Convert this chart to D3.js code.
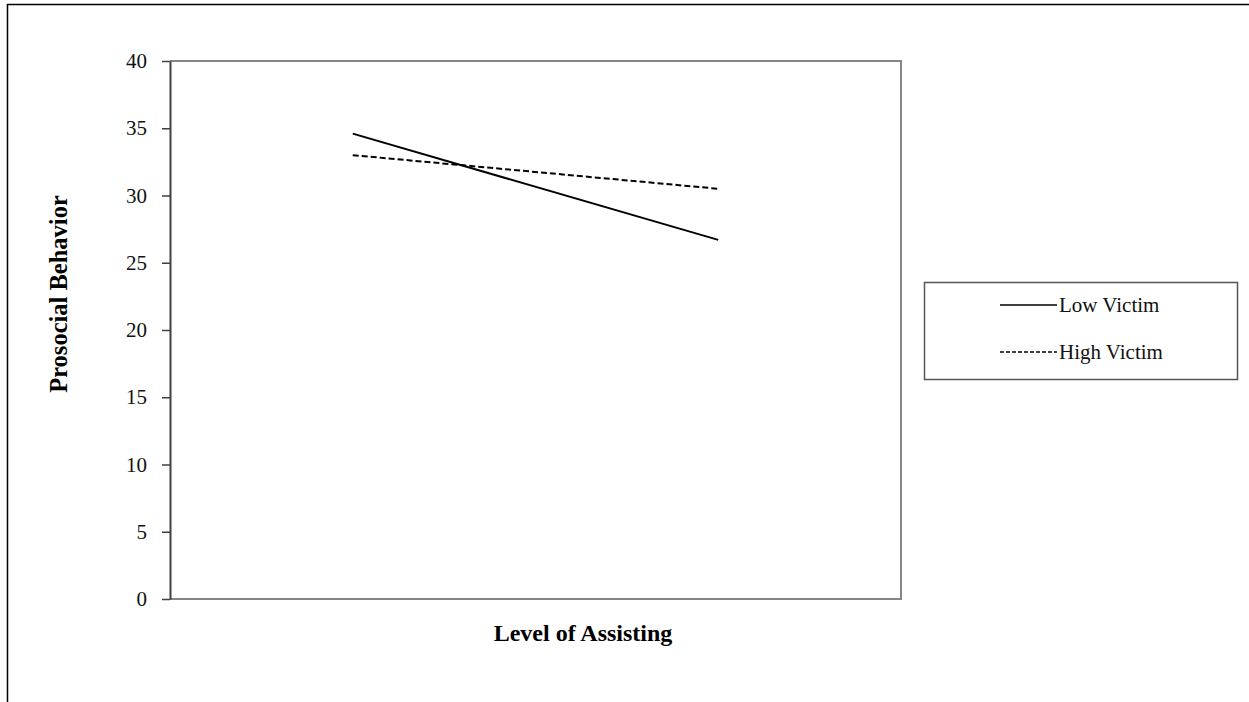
<!DOCTYPE html>
<html>
<head>
<meta charset="utf-8">
<script src="https://cdn.jsdelivr.net/npm/d3@7"></script>
<style>
  html, body { margin: 0; padding: 0; background: #fff; }
  svg { display: block; }
  svg text { font-family: "Liberation Serif", "Times New Roman", "DejaVu Serif", serif; }
</style>
</head>
<body>
<svg id="chart" width="1249" height="702"></svg>
<script>
// Simple slopes: prosocial behavior by level of assisting, for low vs. high victimization
const categories = ["Low Assisting", "High Assisting"];
const lowVictim = [34.6, 26.7];
const highVictim = [33.0, 30.5];
const seriesNames = ["Low Victim", "High Victim"];
const yTicks = [0, 5, 10, 15, 20, 25, 30, 35, 40];

const SERIF = "Liberation Serif, Times New Roman, serif";
const svg = d3.select("#chart");

// Plot area
const plot = { left: 170, top: 61, right: 901, bottom: 599 };

const x = d3.scalePoint()
  .domain(categories)
  .range([plot.left, plot.right])
  .padding(0.5);

const y = d3.scaleLinear()
  .domain([0, 40])
  .range([plot.bottom, plot.top]);

// Outer frame: top and left edges
svg.append("line")
  .attr("x1", 7).attr("y1", 4.5).attr("x2", 1249).attr("y2", 4.5)
  .attr("stroke", "#000").attr("stroke-width", 1.5);
svg.append("line")
  .attr("x1", 7.5).attr("y1", 4).attr("x2", 7.5).attr("y2", 702)
  .attr("stroke", "#000").attr("stroke-width", 1.5);

// Plot border (top, right, bottom) in grey
svg.append("path")
  .attr("d", `M${plot.left},${plot.top}H${plot.right}V${plot.bottom}H${plot.left}`)
  .attr("fill", "none")
  .attr("stroke", "#858585")
  .attr("stroke-width", 2);

// Y axis
const yAxis = d3.axisLeft(y)
  .tickValues(yTicks)
  .tickSizeInner(8)
  .tickSizeOuter(0)
  .tickPadding(15);

const gy = svg.append("g")
  .attr("transform", `translate(${plot.left},0)`)
  .call(yAxis)
  .attr("font-family", SERIF)
  .attr("font-size", 21);
gy.select(".domain").attr("stroke", "#404040").attr("stroke-width", 2);
gy.selectAll(".tick line").attr("stroke", "#404040").attr("stroke-width", 1.5);
gy.selectAll(".tick text")
  .attr("fill", "#111")
  .attr("font-family", SERIF)
  .attr("font-size", 21);

// Series lines
const line = d3.line()
  .x((d, i) => x(categories[i]))
  .y(d => y(d));

svg.append("path")
  .datum(lowVictim)
  .attr("d", line)
  .attr("fill", "none")
  .attr("stroke", "#000")
  .attr("stroke-width", 2);

svg.append("path")
  .datum(highVictim)
  .attr("d", line)
  .attr("fill", "none")
  .attr("stroke", "#000")
  .attr("stroke-width", 2)
  .attr("stroke-dasharray", "6,3");

// Axis titles
svg.append("text")
  .attr("x", 583)
  .attr("y", 641)
  .attr("text-anchor", "middle")
  .attr("font-family", SERIF)
  .attr("font-size", 24)
  .attr("font-weight", "bold")
  .text("Level of Assisting");

svg.append("text")
  .attr("transform", "translate(67,294) rotate(-90)")
  .attr("text-anchor", "middle")
  .attr("font-family", SERIF)
  .attr("font-size", 24.5)
  .attr("font-weight", "bold")
  .text("Prosocial Behavior");

// Legend
const legend = svg.append("g");
legend.append("rect")
  .attr("x", 924.5).attr("y", 282.5)
  .attr("width", 313).attr("height", 97)
  .attr("fill", "#fff")
  .attr("stroke", "#555")
  .attr("stroke-width", 1.5);

const legendRows = [
  { name: seriesNames[0], dash: null, cy: 305 },
  { name: seriesNames[1], dash: "4,2", cy: 352 }
];
legendRows.forEach(r => {
  legend.append("line")
    .attr("x1", 1000).attr("x2", 1057)
    .attr("y1", r.cy).attr("y2", r.cy)
    .attr("stroke", "#000")
    .attr("stroke-width", 1.5)
    .attr("stroke-dasharray", r.dash);
  legend.append("text")
    .attr("x", 1059)
    .attr("y", r.cy + 7)
    .attr("font-family", SERIF)
    .attr("font-size", 21)
    .attr("fill", "#111")
    .text(r.name);
});
</script>
</body>
</html>
